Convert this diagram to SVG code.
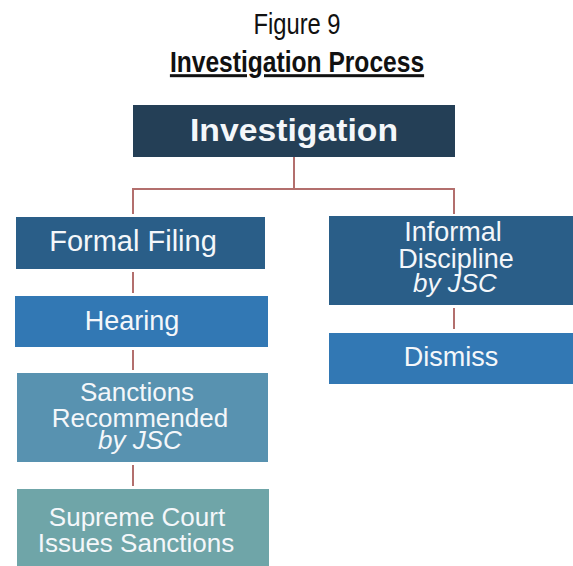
<svg xmlns="http://www.w3.org/2000/svg" width="573" height="566" viewBox="0 0 573 566">
<style>
.t{font-family:"Liberation Sans",Arial,sans-serif;fill:#f4f7fa;text-anchor:middle;font-size:26px}
.i{font-style:italic}
.c{stroke:#b36f6d;stroke-width:2;fill:none}
</style>
<rect width="573" height="566" fill="#ffffff"/>
<g id="title">
<text transform="translate(297,34) scale(0.82,1)" style="font-family:'Liberation Sans',Arial,sans-serif;font-size:29px;fill:#111;text-anchor:middle">Figure 9</text>
<text transform="translate(297,72) scale(0.82,1)" text-decoration="underline" style="font-family:'Liberation Sans',Arial,sans-serif;font-size:30px;font-weight:bold;fill:#111;text-anchor:middle">Investigation Process</text>
</g>
<g id="connectors">
<path class="c" d="M294 157V189M133 189H454M133 188V214M454 188V214"/>
<path class="c" d="M133 272V293M133 350V370M133 465V486M454 308V329"/>
</g>
<g id="investigation">
<rect x="133" y="105" width="322" height="52" fill="#243f56"/>
<text class="t" x="294" y="141" style="font-size:32px;font-weight:bold" textLength="208" lengthAdjust="spacingAndGlyphs">Investigation</text>
</g>
<g id="formal-filing">
<rect x="16" y="217" width="249" height="52" fill="#2a5e88"/>
<text class="t" x="133" y="251" style="font-size:29px">Formal Filing</text>
</g>
<g id="hearing">
<rect x="15" y="296" width="253" height="51" fill="#3278b4"/>
<text class="t" x="132" y="330" style="font-size:27px">Hearing</text>
</g>
<g id="sanctions-recommended">
<rect x="17" y="373" width="251" height="89" fill="#5892b0"/>
<text class="t" x="137" y="401">Sanctions</text>
<text class="t" x="140" y="427">Recommended</text>
<text class="t i" x="140" y="449">by JSC</text>
</g>
<g id="supreme-court">
<rect x="17" y="489" width="252" height="77" fill="#6fa5a8"/>
<text class="t" x="137" y="526">Supreme Court</text>
<text class="t" x="136" y="552">Issues Sanctions</text>
</g>
<g id="informal-discipline">
<rect x="329" y="216" width="244" height="89" fill="#2a5e88"/>
<text class="t" x="453" y="241" style="font-size:27px">Informal</text>
<text class="t" x="456" y="268" style="font-size:27px">Discipline</text>
<text class="t i" x="455" y="292">by JSC</text>
</g>
<g id="dismiss">
<rect x="329" y="333" width="244" height="51" fill="#3278b4"/>
<text class="t" x="451" y="366" style="font-size:27px">Dismiss</text>
</g>
</svg>
